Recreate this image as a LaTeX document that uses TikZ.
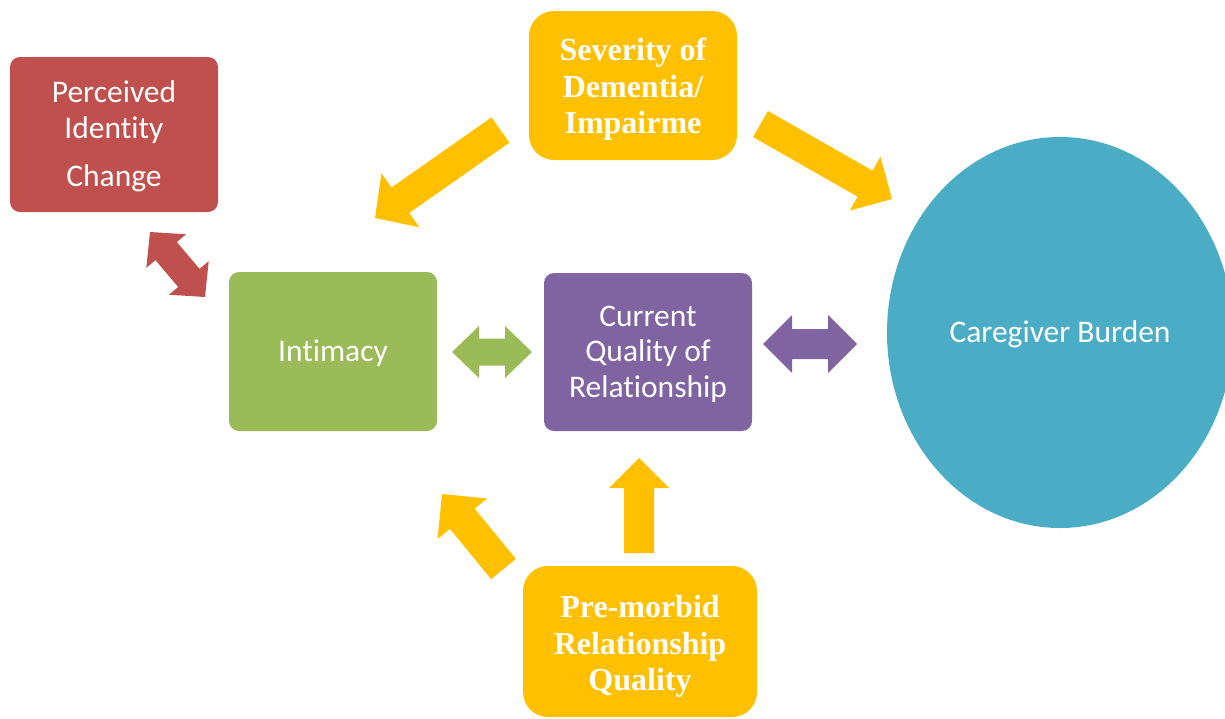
\documentclass[tikz,border=0pt]{standalone}
\usepackage{fontspec}
\newfontfamily\calib[Ligatures=NoCommon]{Carlito}
\newfontfamily\tnr{Liberation Serif}
\usetikzlibrary{calc,shapes.geometric}
\definecolor{cred}{HTML}{C0504D}
\definecolor{cgreen}{HTML}{9BBB59}
\definecolor{cpurple}{HTML}{8064A2}
\definecolor{cteal}{HTML}{4BACC6}
\definecolor{cyellow}{HTML}{FFC000}
% single fat arrow: colour, from, to, half shaft, half head, head length
\newcommand\fatarrow[6]{%
  \coordinate (hb) at ($(#3)!#6!(#2)$);
  \fill[#1] ($(#2)!#4!90:(#3)$) -- ($(hb)!#4!-90:(#2)$) -- ($(hb)!#5!-90:(#2)$) -- (#3)
    -- ($(hb)!#5!90:(#2)$) -- ($(hb)!#4!90:(#2)$) -- ($(#2)!#4!-90:(#3)$) -- cycle;}
% double fat arrow
\newcommand\dblfatarrow[6]{%
  \coordinate (ha) at ($(#2)!#6!(#3)$);
  \coordinate (hb) at ($(#3)!#6!(#2)$);
  \fill[#1] (#2) -- ($(ha)!#5!90:(#3)$) -- ($(ha)!#4!90:(#3)$) -- ($(hb)!#4!-90:(#2)$)
    -- ($(hb)!#5!-90:(#2)$) -- (#3) -- ($(hb)!#5!90:(#2)$) -- ($(hb)!#4!90:(#2)$)
    -- ($(ha)!#4!-90:(#3)$) -- ($(ha)!#5!-90:(#3)$) -- cycle;}
\tikzset{
  box/.style={rectangle, minimum width=208pt, inner sep=0pt},
  sansbox/.style={box, rounded corners=10pt},
  serifbox/.style={box, rounded corners=25pt, fill=cyellow},
  sanstxt/.style={text=white, align=center, inner sep=0pt, font=\calib\fontsize{31.5}{35.5}\selectfont},
  seriftxt/.style={text=white, align=center, inner sep=0pt, font=\tnr\bfseries\fontsize{32}{36.5}\selectfont},
}
\begin{document}
\begin{tikzpicture}[x=1pt,y=-1pt]
\useasboundingbox (0,0) rectangle (1225,718);
% boxes
\node[sansbox, fill=cred, minimum height=155pt] (pic) at (114,134.5) {};
\node[serifbox, minimum height=149pt] (sev) at (633,85.5) {};
\node[sansbox, fill=cgreen, minimum height=159pt] (int) at (333,351.5) {};
\node[sansbox, fill=cpurple, minimum height=158pt] (cur) at (648,352) {};
\node[ellipse, fill=cteal, minimum width=346pt, minimum height=391pt, inner sep=0pt] (care) at (1060,332.5) {};
\node[serifbox, minimum width=234pt, minimum height=151pt] (pre) at (640,641.5) {};
% texts
\node[sanstxt] (pictxt) at ($(pic.center)+(0,2)$) {Perceived\\Identity\\[13pt]Change};
\node[seriftxt] (sevtxt) at ($(sev.center)+(0,4)$) {Severity of\\Dementia/\\Impairme};
\node[sanstxt] (inttxt) at ($(int.center)+(0,2)$) {Intimacy};
\node[sanstxt] (curtxt) at ($(cur.center)+(0,2)$) {Current\\Quality of\\Relationship};
\node[sanstxt] (caretxt) at ($(care.center)+(0,2)$) {Caregiver Burden};
\node[seriftxt] (pretxt) at ($(pre.center)+(0,5)$) {Pre-morbid\\Relationship\\Quality};
% arrow end points
\coordinate (r1) at (150,232); \coordinate (r2) at (205,297);
\coordinate (g1) at (452,352); \coordinate (g2) at (532,352);
\coordinate (p1) at (763,344); \coordinate (p2) at (857,344);
\coordinate (s1) at (500.5,130); \coordinate (s2) at (375,218);
\coordinate (t1) at (760.5,124); \coordinate (t2) at (892,199);
\coordinate (u1) at (639,553); \coordinate (u2) at (639,458);
\coordinate (v1) at (503.5,569); \coordinate (v2) at (442,494);
% arrows
\dblfatarrow{cred}{r1}{r2}{14pt}{26pt}{25pt}
\dblfatarrow{cgreen}{g1}{g2}{13.5pt}{26pt}{27pt}
\dblfatarrow{cpurple}{p1}{p2}{15pt}{29pt}{29pt}
\fatarrow{cyellow}{s1}{s2}{15.5pt}{33pt}{31pt}
\fatarrow{cyellow}{t1}{t2}{15pt}{31pt}{31pt}
\fatarrow{cyellow}{u1}{u2}{15pt}{30pt}{30pt}
\fatarrow{cyellow}{v1}{v2}{16pt}{32pt}{32pt}
\end{tikzpicture}
\end{document}
